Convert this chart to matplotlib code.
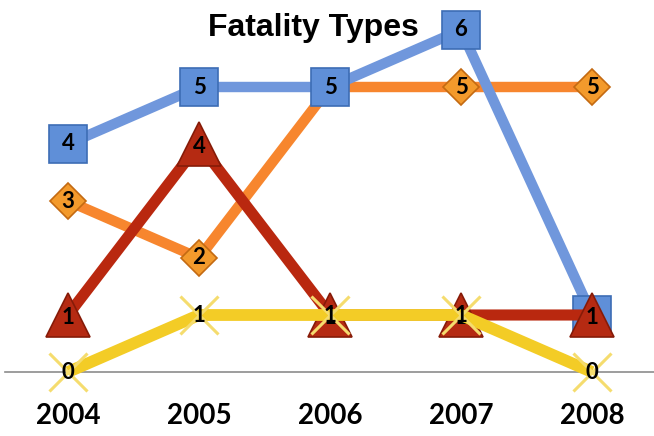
import matplotlib.pyplot as plt

years = [2004, 2005, 2006, 2007, 2008]
blue_vals = [4, 5, 5, 6, 1]
orange_vals = [3, 2, 5, 5, 5]
red_vals = [1, 4, 1, 1, 1]
yellow_vals = [0, 1, 1, 1, 0]

W, H = 654, 436
fig = plt.figure(figsize=(W/100, H/100), dpi=100)
# axes bottom sits on the grey baseline (y=0)
ax = fig.add_axes([5/W, (H-372)/H, 1-5/W, 372/H])
ax.set_xlim(2004-63/131, 2004+586/131)
ax.set_ylim(0, 372/57)

# series styles: values, line colour, marker, marker size, face, edge, line width
series = [
    (orange_vals, '#F7862E', 'D', 18, '#F39A2C', '#C46A12', 7.5),
    (blue_vals, '#7097DC', 's', 27, '#5F8FD8', '#3D6DB5', 7.5),
    (red_vals, '#B9280F', '^', 31, '#B52A12', '#861B08', 8),
    (yellow_vals, '#F3CC26', 'x', 28, '#F5DC6E', '#F5DC6E', 8.5),
]

z = 3
for vals, lc, mk, ms, fc, ec, lw in series:
    ax.plot(years, vals, color=lc, lw=lw, solid_capstyle='butt', zorder=z, clip_on=False)
    if mk == 'x':
        ax.plot(years, vals, ls='none', marker=mk, ms=ms, mew=2.2, color=fc, zorder=z+0.1, clip_on=False)
    else:
        ax.plot(years, vals, ls='none', marker=mk, ms=ms, mfc=fc, mec=ec, mew=1.2, zorder=z+0.1, clip_on=False)
    for x, v in zip(years, vals):
        dy = -0.05 if mk == '^' else 0
        ax.text(x, v+dy, str(v), ha='center', va='center', fontsize=16, fontweight='bold',
                family='Lato', color='black', zorder=z+0.2)
    z += 1

for s in ['top', 'right', 'left']:
    ax.spines[s].set_visible(False)
ax.spines['bottom'].set_color('#8C8C8C')
ax.spines['bottom'].set_linewidth(1.2)
ax.set_yticks([])
ax.set_xticks(years)
ax.set_xticklabels([str(y) for y in years], fontsize=20, fontweight='bold', family='Lato')
ax.tick_params(axis='x', length=0, pad=22)
ax.patch.set_alpha(0)

fig.text(313/W, 1-28/H, 'Fatality Types', ha='center', va='center', fontsize=23,
         fontweight='bold', family='Liberation Sans')

fig.savefig('out.png', dpi=100)
